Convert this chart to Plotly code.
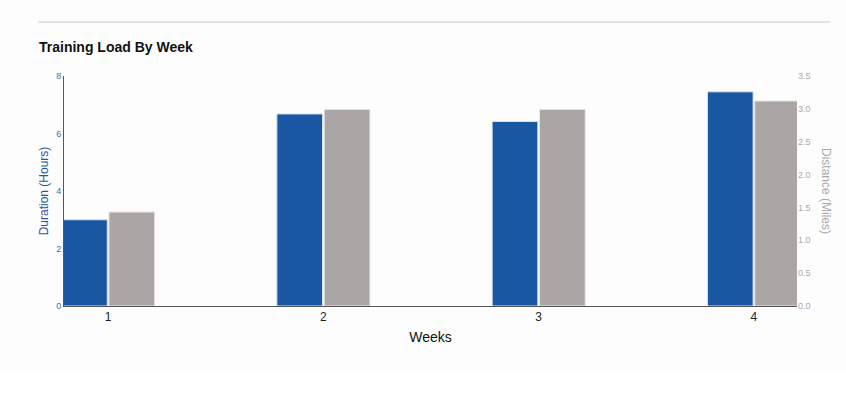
import plotly.graph_objects as go

weeks = ["1", "2", "3", "4"]
duration_hours = [3.0, 6.68, 6.42, 7.45]
distance_miles = [1.43, 2.99, 2.99, 3.12]

W, H = 846, 393
L, R, T, B = 64, 49, 76, 87
FONT = "Liberation Sans, Arial, sans-serif"
BLUE = "#1a57a2"
GRAY = "#aaa6a5"

x = list(range(len(weeks)))

fig = go.Figure()
fig.add_trace(go.Bar(x=x, y=duration_hours, name="Duration", marker=dict(color=BLUE, line=dict(color="#dbe6f3", width=1)),
                     offsetgroup="a", yaxis="y"))
fig.add_trace(go.Bar(x=x, y=distance_miles, name="Distance", marker=dict(color=GRAY, line=dict(color="#e6e4e4", width=1)),
                     offsetgroup="b", yaxis="y2"))

fig.update_layout(
    width=W, height=H,
    margin=dict(l=L, r=R, t=T, b=B, pad=0),
    paper_bgcolor="#fdfdfd", plot_bgcolor="rgba(0,0,0,0)",
    showlegend=False,
    barmode="group", bargap=0.56, bargroupgap=0.035,
    font=dict(family=FONT),
    xaxis=dict(range=[-0.205, 3.2], tickmode="array", tickvals=x, ticktext=weeks,
               showgrid=False, zeroline=False, showline=True, linecolor="#555", linewidth=1,
               ticks="", tickfont=dict(size=12, color="#222"),
               title=dict(text="Weeks", font=dict(size=14, color="#111"), standoff=8)),
    yaxis=dict(range=[0, 8], dtick=2, showgrid=False, zeroline=False, showline=True,
               linecolor="#555", linewidth=1, ticks="", ticklen=0,
               tickfont=dict(size=9, color="#3b6db3"),
               title=dict(text="Duration (Hours)", font=dict(size=12, color=BLUE), standoff=4)),
    yaxis2=dict(range=[0, 3.5], dtick=0.5, tickformat=".1f", overlaying="y", side="right",
                showgrid=False, zeroline=False, showline=False, ticks="",
                tickfont=dict(size=9, color="#aaaaaa")),
    shapes=[
        dict(type="rect", xref="paper", yref="paper", x0=-L / (W - L - R), x1=(W - L) / (W - L - R),
             y0=-B / (H - T - B), y1=-(B - 21) / (H - T - B), fillcolor="white", line=dict(width=0), layer="below"),
        dict(type="line", xref="paper", yref="paper", x0=(38 - L) / (W - L - R), x1=(830 - L) / (W - L - R),
             y0=1 + (T - 22) / (H - T - B), y1=1 + (T - 22) / (H - T - B), line=dict(color="#c8c8c8", width=1)),
    ],
    annotations=[
        dict(text="<b>Training Load By Week</b>", xref="paper", yref="paper",
             x=(37 - L) / (W - L - R), y=1 + (T - 47) / (H - T - B), xanchor="left", yanchor="middle",
             showarrow=False, font=dict(size=14, color="#111")),
        dict(text="Distance (Miles)", xref="paper", yref="paper", textangle=90,
             x=1 + (826 - (W - R)) / (W - L - R), y=0.5, xanchor="center", yanchor="middle",
             showarrow=False, font=dict(size=12, color="#aaaaaa")),
    ],
)

fig.write_html("out.html")
